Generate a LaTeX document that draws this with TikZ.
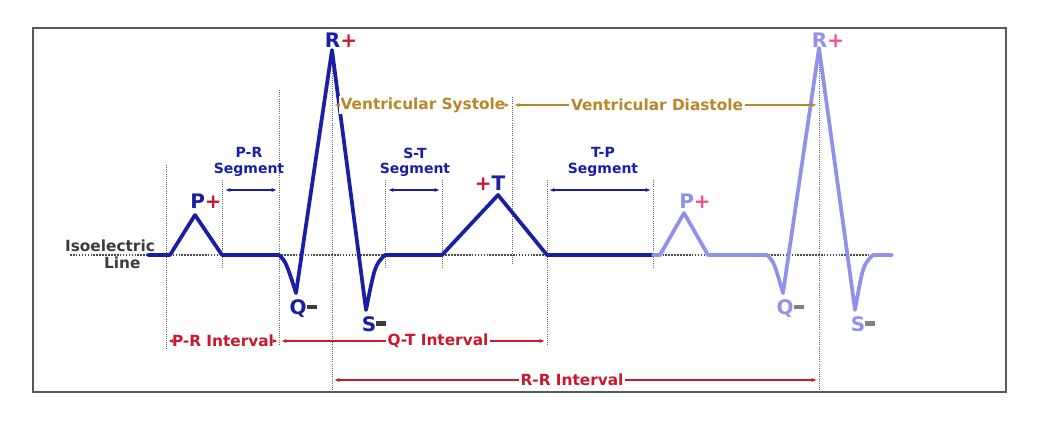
\documentclass[tikz,border=0pt]{standalone}
\usepackage{fontspec}
\setmainfont{DejaVu Sans}
\usetikzlibrary{arrows.meta}
\definecolor{navy}{RGB}{25,30,165}
\definecolor{lblue}{RGB}{145,145,235}
\definecolor{ired}{RGB}{200,25,45}
\definecolor{gold}{RGB}{185,135,40}
\definecolor{pinkp}{RGB}{240,80,150}
\definecolor{mgray}{RGB}{60,60,60}
\newcommand{\mydash}{\rule[0.28em]{0.5em}{0.22em}}
\tikzset{
 wave/.style={line width=2.8pt,line join=round,line cap=round},
 guide/.style={densely dotted,gray!80!black,line width=0.6pt},
 dim/.style={{Latex[length=4pt,width=3pt]}-{Latex[length=4pt,width=3pt]},line width=0.8pt},
 lbl/.style={font=\fontsize{10.5}{11.5}\selectfont\bfseries,inner sep=1pt,align=center},
 ilbl/.style={font=\fontsize{11.5}{13}\selectfont\bfseries,inner sep=1pt},
 big/.style={font=\fontsize{15}{16}\selectfont\bfseries,inner sep=0pt},
 tip/.style={line width=0.9pt,-{Latex[length=4pt,width=3pt]}},
}
\begin{document}
\begin{tikzpicture}[x=0.75pt,y=-0.75pt]
\useasboundingbox (0,0) rectangle (1056,442);
\draw[gray!70!black,line width=0.8pt] (33,28) rectangle (1006,392);
% isoelectric
\draw[densely dotted,gray!60!black,line width=1.2pt] (70,255) -- (892,255);
% guides
\draw[guide] (166,165) -- (166,350);
\draw[guide] (222,180) -- (222,268);
\draw[guide] (279,90) -- (279,345);
\draw[guide] (332,50) -- (332,390);
\draw[guide] (385,180) -- (385,268);
\draw[guide] (442,180) -- (442,268);
\draw[guide] (512,97) -- (512,265);
\draw[guide] (547,180) -- (547,345);
\draw[guide] (653,180) -- (653,268);
\draw[guide] (819,50) -- (819,390);
% waves
\draw[wave,navy] (148,255) -- (170,255) -- (195,215) -- (222,255) -- (279,255)
  .. controls (286,262) .. (296,293) -- (332,50) -- (366,310)
  .. controls (375,265) .. (385,255) -- (442,255) -- (498,195) -- (547,255) -- (653,255);
\draw[wave,lblue] (653,255) -- (660,255) -- (684,213) -- (708,255) -- (767,255)
  .. controls (774,262) .. (783,293) -- (819,48) -- (855,310)
  .. controls (863,265) .. (873,255) -- (892,255);
% segments
\coordinate (a1) at (225,190); \coordinate (a2) at (277,190);
\draw[dim,navy] (a1) -- (a2);
\coordinate (b1) at (388,190); \coordinate (b2) at (440,190);
\draw[dim,navy] (b1) -- (b2);
\coordinate (c1) at (549,190); \coordinate (c2) at (651,190);
\draw[dim,navy] (c1) -- (c2);
\node[lbl,text=navy] (prs) at (249,162) {P-R\\Segment};
\node[lbl,text=navy] (sts) at (415,162) {S-T\\Segment};
\node[lbl,text=navy] (tps) at (603,162) {T-P\\Segment};
% ventricular
\node[ilbl,text=gold,fill=white] (vs) at (423,105) {Ventricular Systole};
\coordinate (vs1) at (334,105); \coordinate (vs2) at (510,105);
\draw[gold,tip] (vs.west) -- (vs1);
\draw[gold,tip] (vs.east) -- (vs2);
\node[ilbl,text=gold,fill=white] (vd) at (657,105) {Ventricular Diastole};
\coordinate (vd1) at (514,105); \coordinate (vd2) at (817,105);
\draw[gold,tip] (vd.west) -- (vd1);
\draw[gold,tip] (vd.east) -- (vd2);
% intervals
\node[ilbl,text=ired,fill=white] (pri) at (223,341) {P-R Interval};
\coordinate (p1) at (168,341); \coordinate (p2) at (278,341);
\draw[ired,tip] (pri.west) -- (p1);
\draw[ired,tip] (pri.east) -- (p2);
\node[ilbl,text=ired,fill=white] (qti) at (438,341) {Q-T Interval};
\coordinate (q1) at (281,341); \coordinate (q2) at (545,341);
\draw[ired,tip] (qti.west) -- (q1);
\draw[ired,tip] (qti.east) -- (q2);
\node[ilbl,text=ired,fill=white] (rri) at (572,380) {R-R Interval};
\coordinate (r1) at (334,380); \coordinate (r2) at (817,380);
\draw[ired,tip] (rri.west) -- (r1);
\draw[ired,tip] (rri.east) -- (r2);
% isoelectric label
\node[lbl,text=mgray,font=\fontsize{11.5}{14}\selectfont\bfseries] (iso) at (110,254) {Isoelectric\\[-1pt]\hspace*{1.6em}Line};
% wave labels
\node[big,text=navy] (R) at (341,40) {R\textcolor{ired}{+}};
\node[big,text=navy] (P) at (206,201) {P\textcolor{ired}{+}};
\node[big,text=navy] (T) at (490,183) {\textcolor{ired}{+}T};
\node[big,text=navy] (Q) at (303,309) {Q\textcolor{mgray}{\mydash}};
\node[big,text=navy] (S) at (374,324) {S\textcolor{mgray}{\mydash}};
\node[big,text=lblue] (R2) at (828,40) {R\textcolor{pinkp}{+}};
\node[big,text=lblue] (P2) at (695,201) {P\textcolor{pinkp}{+}};
\node[big,text=lblue] (Q2) at (790,309) {Q\textcolor{gray}{\mydash}};
\node[big,text=lblue] (S2) at (863,324) {S\textcolor{gray}{\mydash}};
\end{tikzpicture}
\end{document}
